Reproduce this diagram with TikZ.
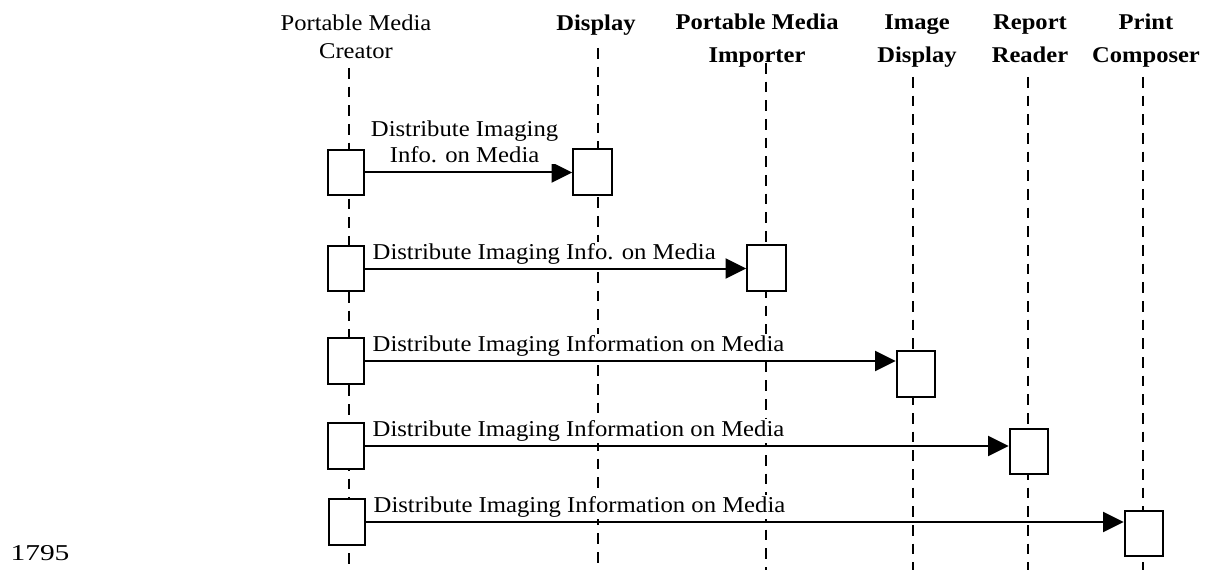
\documentclass[tikz,border=0pt]{standalone}
\usepackage{fontspec}
\setmainfont{Liberation Serif}[FakeStretch=1.09]
\newfontfamily\pagefont{Liberation Serif}[FakeStretch=1.3]
\usetikzlibrary{arrows.meta,positioning}

\begin{document}
\begin{tikzpicture}[x=0.75pt,y=-0.75pt,
    head node/.style={align=center,inner sep=0pt,anchor=north,font=\fontsize{16.9}{24.75}\selectfont\bfseries},
    act node/.style={rectangle,draw,fill=white,line width=1.5pt,minimum width=27pt,minimum height=34pt,inner sep=0pt},
    life line/.style={line width=1.8pt,dash pattern=on 8pt off 6pt},
    call/.style={line width=1.5pt,-{Triangle[length=15.5pt,width=15pt]}},
    msg node/.style={align=center,fill=white,inner sep=1pt,font=\fontsize{17}{19.5}\selectfont}]
    \useasboundingbox (0,0) rectangle (1209,570);

    % lifeline owners
    \node[head node,font=\fontsize{16.9}{20.7}\selectfont] (creator) at (356,15) {Portable Media\\Creator};
    \node[head node] (disp) at (596,15) {Display};
    \node[head node] (imp) at (757,14) {Portable Media\\Importer};
    \node[head node] (imgd) at (917,14) {Image\\Display};
    \node[head node] (rep) at (1030,14) {Report\\Reader};
    \node[head node] (prn) at (1146,14) {Print\\Composer};

    % lifelines
    \coordinate (bot) at (0,570);
    \foreach \n/\x/\y in {1/349/68, 2/598/48, 3/766/63, 4/913/77, 5/1028/77, 6/1143/77}{
        \coordinate (top\n) at (\x,\y);
        \draw[life line] (top\n) -- (top\n |- bot);
    }

    % activations
    \node[act node] (c1) at (346,172.5) {};
    \node[act node] (c2) at (346,268.5) {};
    \node[act node] (c3) at (346,361) {};
    \node[act node] (c4) at (346,446) {};
    \node[act node] (c5) at (347,522) {};
    \node[act node,minimum width=29pt] (t1) at (592.5,172) {};
    \node[act node,minimum width=29pt] (t2) at (766.5,268) {};
    \node[act node,minimum width=29pt] (t3) at (916,374) {};
    \node[act node,minimum width=29pt] (t4) at (1029,451.5) {};
    \node[act node,minimum width=29pt] (t5) at (1144,533.5) {};

    % messages
    \draw[call] (c1) -- node[msg node,above=5.8pt,xshift=-3pt] {Distribute Imaging\\Info. on Media} (c1.east -| t1.west);
    \draw[call] (c2) -- node[msg node,pos=0,anchor=base west,xshift=4pt,yshift=7pt] {Distribute Imaging Info. on Media} (c2.east -| t2.west);
    \draw[call] (c3) -- node[msg node,pos=0,anchor=base west,xshift=4pt,yshift=7pt] {Distribute Imaging Information on Media} (c3.east -| t3.west);
    \draw[call] (c4) -- node[msg node,pos=0,anchor=base west,xshift=4pt,yshift=7pt] {Distribute Imaging Information on Media} (c4.east -| t4.west);
    \draw[call] (c5) -- node[msg node,pos=0,anchor=base west,xshift=4pt,yshift=7pt] {Distribute Imaging Information on Media} (c5.east -| t5.west);

    \node[font=\pagefont\fontsize{17}{18}\selectfont] (page) at (40,553) {1795};
\end{tikzpicture}
\end{document}
